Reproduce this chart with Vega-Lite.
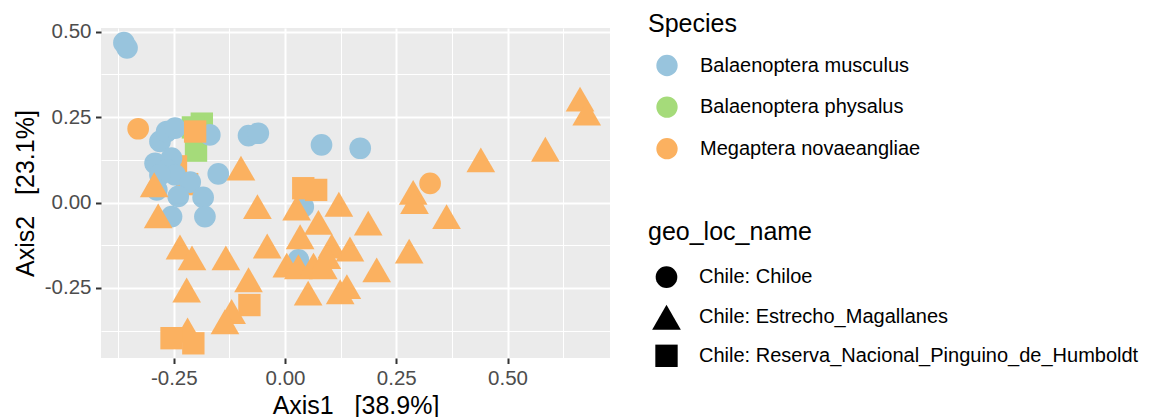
{
  "$schema": "https://vega.github.io/schema/vega-lite/v6.json",
  "width": 509,
  "height": 330,
  "autosize": {"type": "none"},
  "padding": {"left": 101, "top": 28, "right": 549, "bottom": 59},
  "background": "white",
  "config": {
    "font": "Liberation Sans",
    "view": {"fill": "#EBEBEB", "stroke": null},
    "axis": {
      "domain": false,
      "labelFont": "Liberation Sans",
      "labelFontSize": 20.5,
      "labelColor": "#4D4D4D",
      "labelOverlap": false,
      "labelFlush": false,
      "tickColor": "#333333",
      "tickWidth": 2,
      "tickSize": 5.5,
      "gridColor": "#FFFFFF",
      "titleFont": "Liberation Sans",
      "titleFontSize": 25,
      "titleFontWeight": "normal",
      "titleColor": "#000000"
    },
    "legend": {
      "padding": 0,
      "titleFont": "Liberation Sans",
      "titleFontSize": 25,
      "titleFontWeight": "normal",
      "titleColor": "#000000",
      "labelFont": "Liberation Sans",
      "labelFontSize": 20,
      "labelColor": "#000000",
      "labelLimit": 1000,
      "symbolStrokeWidth": 0,
      "symbolOpacity": 1
    }
  },
  "data": {
    "values": [
      {"Axis1": -0.187, "Axis2": 0.231, "Species": "Balaenoptera physalus", "geo_loc_name": "Chile: Reserva_Nacional_Pinguino_de_Humboldt"},
      {"Axis1": -0.207, "Axis2": 0.220, "Species": "Balaenoptera physalus", "geo_loc_name": "Chile: Reserva_Nacional_Pinguino_de_Humboldt"},
      {"Axis1": -0.200, "Axis2": 0.152, "Species": "Balaenoptera physalus", "geo_loc_name": "Chile: Reserva_Nacional_Pinguino_de_Humboldt"},
      {"Axis1": -0.245, "Axis2": 0.106, "Species": "Megaptera novaeangliae", "geo_loc_name": "Chile: Reserva_Nacional_Pinguino_de_Humboldt"},
      {"Axis1": -0.220, "Axis2": 0.054, "Species": "Megaptera novaeangliae", "geo_loc_name": "Chile: Reserva_Nacional_Pinguino_de_Humboldt"},
      {"Axis1": -0.362, "Axis2": 0.468, "Species": "Balaenoptera musculus", "geo_loc_name": "Chile: Chiloe"},
      {"Axis1": -0.355, "Axis2": 0.453, "Species": "Balaenoptera musculus", "geo_loc_name": "Chile: Chiloe"},
      {"Axis1": -0.281, "Axis2": 0.179, "Species": "Balaenoptera musculus", "geo_loc_name": "Chile: Chiloe"},
      {"Axis1": -0.266, "Axis2": 0.208, "Species": "Balaenoptera musculus", "geo_loc_name": "Chile: Chiloe"},
      {"Axis1": -0.247, "Axis2": 0.218, "Species": "Balaenoptera musculus", "geo_loc_name": "Chile: Chiloe"},
      {"Axis1": -0.169, "Axis2": 0.198, "Species": "Balaenoptera musculus", "geo_loc_name": "Chile: Chiloe"},
      {"Axis1": -0.082, "Axis2": 0.196, "Species": "Balaenoptera musculus", "geo_loc_name": "Chile: Chiloe"},
      {"Axis1": -0.060, "Axis2": 0.203, "Species": "Balaenoptera musculus", "geo_loc_name": "Chile: Chiloe"},
      {"Axis1": -0.292, "Axis2": 0.115, "Species": "Balaenoptera musculus", "geo_loc_name": "Chile: Chiloe"},
      {"Axis1": -0.255, "Axis2": 0.130, "Species": "Balaenoptera musculus", "geo_loc_name": "Chile: Chiloe"},
      {"Axis1": -0.266, "Axis2": 0.096, "Species": "Balaenoptera musculus", "geo_loc_name": "Chile: Chiloe"},
      {"Axis1": -0.247, "Axis2": 0.081, "Species": "Balaenoptera musculus", "geo_loc_name": "Chile: Chiloe"},
      {"Axis1": -0.281, "Axis2": 0.081, "Species": "Balaenoptera musculus", "geo_loc_name": "Chile: Chiloe"},
      {"Axis1": -0.213, "Axis2": 0.060, "Species": "Balaenoptera musculus", "geo_loc_name": "Chile: Chiloe"},
      {"Axis1": -0.150, "Axis2": 0.084, "Species": "Balaenoptera musculus", "geo_loc_name": "Chile: Chiloe"},
      {"Axis1": -0.184, "Axis2": 0.015, "Species": "Balaenoptera musculus", "geo_loc_name": "Chile: Chiloe"},
      {"Axis1": -0.240, "Axis2": 0.018, "Species": "Balaenoptera musculus", "geo_loc_name": "Chile: Chiloe"},
      {"Axis1": -0.288, "Axis2": 0.037, "Species": "Balaenoptera musculus", "geo_loc_name": "Chile: Chiloe"},
      {"Axis1": -0.255, "Axis2": -0.041, "Species": "Balaenoptera musculus", "geo_loc_name": "Chile: Chiloe"},
      {"Axis1": -0.180, "Axis2": -0.041, "Species": "Balaenoptera musculus", "geo_loc_name": "Chile: Chiloe"},
      {"Axis1": 0.082, "Axis2": 0.169, "Species": "Balaenoptera musculus", "geo_loc_name": "Chile: Chiloe"},
      {"Axis1": 0.169, "Axis2": 0.159, "Species": "Balaenoptera musculus", "geo_loc_name": "Chile: Chiloe"},
      {"Axis1": 0.041, "Axis2": -0.012, "Species": "Balaenoptera musculus", "geo_loc_name": "Chile: Chiloe"},
      {"Axis1": 0.030, "Axis2": -0.168, "Species": "Balaenoptera musculus", "geo_loc_name": "Chile: Chiloe"},
      {"Axis1": -0.330, "Axis2": 0.216, "Species": "Megaptera novaeangliae", "geo_loc_name": "Chile: Chiloe"},
      {"Axis1": 0.326, "Axis2": 0.056, "Species": "Megaptera novaeangliae", "geo_loc_name": "Chile: Chiloe"},
      {"Axis1": -0.202, "Axis2": 0.208, "Species": "Megaptera novaeangliae", "geo_loc_name": "Chile: Reserva_Nacional_Pinguino_de_Humboldt"},
      {"Axis1": 0.041, "Axis2": 0.042, "Species": "Megaptera novaeangliae", "geo_loc_name": "Chile: Reserva_Nacional_Pinguino_de_Humboldt"},
      {"Axis1": 0.070, "Axis2": 0.037, "Species": "Megaptera novaeangliae", "geo_loc_name": "Chile: Reserva_Nacional_Pinguino_de_Humboldt"},
      {"Axis1": -0.080, "Axis2": -0.300, "Species": "Megaptera novaeangliae", "geo_loc_name": "Chile: Reserva_Nacional_Pinguino_de_Humboldt"},
      {"Axis1": -0.294, "Axis2": 0.052, "Species": "Megaptera novaeangliae", "geo_loc_name": "Chile: Estrecho_Magallanes"},
      {"Axis1": -0.285, "Axis2": -0.039, "Species": "Megaptera novaeangliae", "geo_loc_name": "Chile: Estrecho_Magallanes"},
      {"Axis1": -0.099, "Axis2": 0.101, "Species": "Megaptera novaeangliae", "geo_loc_name": "Chile: Estrecho_Magallanes"},
      {"Axis1": -0.062, "Axis2": -0.012, "Species": "Megaptera novaeangliae", "geo_loc_name": "Chile: Estrecho_Magallanes"},
      {"Axis1": -0.236, "Axis2": -0.130, "Species": "Megaptera novaeangliae", "geo_loc_name": "Chile: Estrecho_Magallanes"},
      {"Axis1": -0.209, "Axis2": -0.162, "Species": "Megaptera novaeangliae", "geo_loc_name": "Chile: Estrecho_Magallanes"},
      {"Axis1": -0.133, "Axis2": -0.162, "Species": "Megaptera novaeangliae", "geo_loc_name": "Chile: Estrecho_Magallanes"},
      {"Axis1": -0.040, "Axis2": -0.127, "Species": "Megaptera novaeangliae", "geo_loc_name": "Chile: Estrecho_Magallanes"},
      {"Axis1": -0.221, "Axis2": -0.256, "Species": "Megaptera novaeangliae", "geo_loc_name": "Chile: Estrecho_Magallanes"},
      {"Axis1": -0.082, "Axis2": -0.226, "Species": "Megaptera novaeangliae", "geo_loc_name": "Chile: Estrecho_Magallanes"},
      {"Axis1": -0.120, "Axis2": -0.319, "Species": "Megaptera novaeangliae", "geo_loc_name": "Chile: Estrecho_Magallanes"},
      {"Axis1": -0.135, "Axis2": -0.349, "Species": "Megaptera novaeangliae", "geo_loc_name": "Chile: Estrecho_Magallanes"},
      {"Axis1": -0.219, "Axis2": -0.373, "Species": "Megaptera novaeangliae", "geo_loc_name": "Chile: Estrecho_Magallanes"},
      {"Axis1": 0.026, "Axis2": -0.016, "Species": "Megaptera novaeangliae", "geo_loc_name": "Chile: Estrecho_Magallanes"},
      {"Axis1": 0.121, "Axis2": -0.005, "Species": "Megaptera novaeangliae", "geo_loc_name": "Chile: Estrecho_Magallanes"},
      {"Axis1": 0.288, "Axis2": 0.030, "Species": "Megaptera novaeangliae", "geo_loc_name": "Chile: Estrecho_Magallanes"},
      {"Axis1": 0.291, "Axis2": 0.003, "Species": "Megaptera novaeangliae", "geo_loc_name": "Chile: Estrecho_Magallanes"},
      {"Axis1": 0.363, "Axis2": -0.041, "Species": "Megaptera novaeangliae", "geo_loc_name": "Chile: Estrecho_Magallanes"},
      {"Axis1": 0.187, "Axis2": -0.060, "Species": "Megaptera novaeangliae", "geo_loc_name": "Chile: Estrecho_Magallanes"},
      {"Axis1": 0.075, "Axis2": -0.058, "Species": "Megaptera novaeangliae", "geo_loc_name": "Chile: Estrecho_Magallanes"},
      {"Axis1": 0.034, "Axis2": -0.100, "Species": "Megaptera novaeangliae", "geo_loc_name": "Chile: Estrecho_Magallanes"},
      {"Axis1": 0.105, "Axis2": -0.127, "Species": "Megaptera novaeangliae", "geo_loc_name": "Chile: Estrecho_Magallanes"},
      {"Axis1": 0.146, "Axis2": -0.136, "Species": "Megaptera novaeangliae", "geo_loc_name": "Chile: Estrecho_Magallanes"},
      {"Axis1": 0.279, "Axis2": -0.142, "Species": "Megaptera novaeangliae", "geo_loc_name": "Chile: Estrecho_Magallanes"},
      {"Axis1": 0.004, "Axis2": -0.183, "Species": "Megaptera novaeangliae", "geo_loc_name": "Chile: Estrecho_Magallanes"},
      {"Axis1": 0.030, "Axis2": -0.188, "Species": "Megaptera novaeangliae", "geo_loc_name": "Chile: Estrecho_Magallanes"},
      {"Axis1": 0.064, "Axis2": -0.183, "Species": "Megaptera novaeangliae", "geo_loc_name": "Chile: Estrecho_Magallanes"},
      {"Axis1": 0.086, "Axis2": -0.188, "Species": "Megaptera novaeangliae", "geo_loc_name": "Chile: Estrecho_Magallanes"},
      {"Axis1": 0.094, "Axis2": -0.158, "Species": "Megaptera novaeangliae", "geo_loc_name": "Chile: Estrecho_Magallanes"},
      {"Axis1": 0.206, "Axis2": -0.197, "Species": "Megaptera novaeangliae", "geo_loc_name": "Chile: Estrecho_Magallanes"},
      {"Axis1": 0.052, "Axis2": -0.265, "Species": "Megaptera novaeangliae", "geo_loc_name": "Chile: Estrecho_Magallanes"},
      {"Axis1": 0.124, "Axis2": -0.261, "Species": "Megaptera novaeangliae", "geo_loc_name": "Chile: Estrecho_Magallanes"},
      {"Axis1": 0.139, "Axis2": -0.246, "Species": "Megaptera novaeangliae", "geo_loc_name": "Chile: Estrecho_Magallanes"},
      {"Axis1": 0.440, "Axis2": 0.125, "Species": "Megaptera novaeangliae", "geo_loc_name": "Chile: Estrecho_Magallanes"},
      {"Axis1": 0.585, "Axis2": 0.156, "Species": "Megaptera novaeangliae", "geo_loc_name": "Chile: Estrecho_Magallanes"},
      {"Axis1": 0.663, "Axis2": 0.303, "Species": "Megaptera novaeangliae", "geo_loc_name": "Chile: Estrecho_Magallanes"},
      {"Axis1": 0.678, "Axis2": 0.262, "Species": "Megaptera novaeangliae", "geo_loc_name": "Chile: Estrecho_Magallanes"},
      {"Axis1": -0.255, "Axis2": -0.397, "Species": "Megaptera novaeangliae", "geo_loc_name": "Chile: Reserva_Nacional_Pinguino_de_Humboldt"},
      {"Axis1": -0.206, "Axis2": -0.412, "Species": "Megaptera novaeangliae", "geo_loc_name": "Chile: Reserva_Nacional_Pinguino_de_Humboldt"}
    ]
  },
  "mark": {"type": "point", "filled": true, "opacity": 1, "strokeWidth": 0},
  "encoding": {
    "x": {
      "field": "Axis1",
      "type": "quantitative",
      "scale": {"domain": [-0.4135, 0.7303], "nice": false, "zero": false},
      "axis": {
        "title": "Axis1\u00a0\u00a0\u00a0[38.9%]",
        "titleBaseline": "alphabetic",
        "titleY": 55,
        "values": [-0.375, -0.25, -0.125, 0, 0.125, 0.25, 0.375, 0.5, 0.625],
        "labelExpr": "abs(datum.value * 4 - round(datum.value * 4)) < 0.01 ? replace(format(datum.value, '.2f'), '\u2212', '-') : ''",
        "labelPadding": 5,
        "gridWidth": {"condition": {"test": "abs(datum.value * 4 - round(datum.value * 4)) < 0.01", "value": 2}, "value": 1},
        "tickOpacity": {"condition": {"test": "abs(datum.value * 4 - round(datum.value * 4)) < 0.01", "value": 1}, "value": 0}
      }
    },
    "y": {
      "field": "Axis2",
      "type": "quantitative",
      "scale": {"domain": [-0.455, 0.511], "nice": false, "zero": false},
      "axis": {
        "title": "Axis2\u00a0\u00a0\u00a0[23.1%]",
        "titleAngle": -90,
        "titleAlign": "center",
        "titleBaseline": "alphabetic",
        "titleX": -68,
        "titleY": 165,
        "values": [-0.375, -0.25, -0.125, 0, 0.125, 0.25, 0.375, 0.5],
        "labelExpr": "abs(datum.value * 4 - round(datum.value * 4)) < 0.01 ? replace(format(datum.value, '.2f'), '\u2212', '-') : ''",
        "labelPadding": 4.5,
        "gridWidth": {"condition": {"test": "abs(datum.value * 4 - round(datum.value * 4)) < 0.01", "value": 2}, "value": 1},
        "tickOpacity": {"condition": {"test": "abs(datum.value * 4 - round(datum.value * 4)) < 0.01", "value": 1}, "value": 0}
      }
    },
    "color": {
      "field": "Species",
      "type": "nominal",
      "scale": {
        "domain": ["Balaenoptera musculus", "Balaenoptera physalus", "Megaptera novaeangliae"],
        "range": ["#98C4DD", "#A5DB7A", "#FBB160"]
      },
      "legend": {
        "title": "Species",
        "orient": "none",
        "legendX": 547,
        "legendY": -16.5,
        "symbolType": "circle",
        "symbolSize": 455,
        "symbolOffset": 8,
        "labelOffset": 22,
        "rowPadding": 19.6,
        "titlePadding": 18
      }
    },
    "shape": {
      "field": "geo_loc_name",
      "type": "nominal",
      "scale": {
        "domain": ["Chile: Chiloe", "Chile: Estrecho_Magallanes", "Chile: Reserva_Nacional_Pinguino_de_Humboldt"],
        "range": ["circle", "triangle-up", "square"]
      },
      "legend": {
        "title": "geo_loc_name",
        "orient": "none",
        "legendX": 547,
        "legendY": 192.3,
        "symbolFillColor": "#000000",
        "symbolOffset": 4,
        "labelOffset": 18,
        "rowPadding": 14.6,
        "titlePadding": 20.8
      }
    },
    "size": {
      "field": "geo_loc_name",
      "type": "nominal",
      "scale": {
        "type": "ordinal",
        "domain": ["Chile: Chiloe", "Chile: Estrecho_Magallanes", "Chile: Reserva_Nacional_Pinguino_de_Humboldt"],
        "range": [470, 824, 500]
      },
      "legend": {
        "title": "geo_loc_name",
        "orient": "none",
        "legendX": 547,
        "legendY": 192.3,
        "rowPadding": 14.6,
        "titlePadding": 20.8
      }
    }
  }
}
